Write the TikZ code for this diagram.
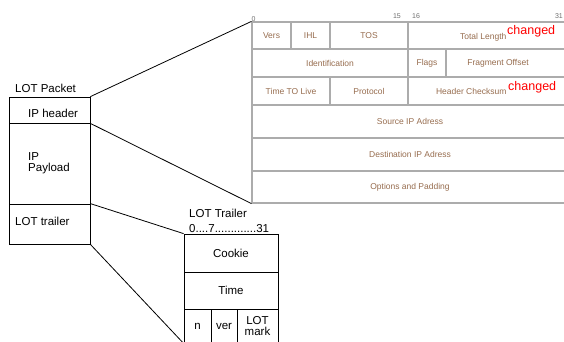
\documentclass[tikz,border=0pt]{standalone}
\usepackage{fontspec}
\setmainfont{Liberation Sans}
\usetikzlibrary{positioning}
\definecolor{gridgray}{RGB}{172,172,172}
\definecolor{fieldbrown}{RGB}{150,108,78}
\definecolor{bitgray}{RGB}{110,110,110}

\begin{document}
\begin{tikzpicture}[x=1pt, y=-1pt,
    box/.style 2 args = {shape=rectangle, draw, line width=0.8pt, inner sep=0pt,
      minimum width=#1pt, minimum height=#2pt, font=\fontsize{11.5}{11}\selectfont, align=center},
    fld/.style 2 args = {shape=rectangle, draw=gridgray, line width=1.2pt, inner sep=0pt,
      minimum width=#1pt, minimum height=#2pt, text=fieldbrown, font=\fontsize{8.5}{9}\selectfont},
    txt/.style = {inner sep=0pt, font=\fontsize{11.5}{11}\selectfont, align=left},
    bit/.style = {inner sep=0pt, text=bitgray, font=\fontsize{7}{8}\selectfont},
    chg/.style = {inner sep=0pt, text=red, font=\fontsize{12.5}{13}\selectfont}]
    \useasboundingbox (0,0) rectangle (564,341);

    \node[fld={39}{27}]  (vers)    at (271.5,35.5) {Vers};
    \node[fld={39}{27}]  (ihl)     at (310.5,35.5) {IHL};
    \node[fld={78}{27}]  (tos)     at (369,35.5)   {TOS};
    \node[fld={160}{27}] (totlen)  at (488,35.5)   {};
    \node[fld={156}{28}] (ident)   at (330,63)     {Identification};
    \node[fld={38}{28}]  (flags)   at (427,63)     {Flags};
    \node[fld={122}{28}] (fragoff) at (507,63)     {};
    \node[fld={316}{33}] (srcip)   at (410,121.5)  {Source IP Adress};
    \node[fld={78}{28}]  (ttl)     at (291,91)     {Time TO Live};
    \node[fld={78}{28}]  (proto)   at (369,91)     {Protocol};
    \node[fld={160}{28}] (hcsum)   at (488,91)     {};
    \node[fld={316}{33}] (dstip)   at (410,154.5)  {Destination IP Adress};
    \node[fld={316}{32}] (opts)    at (410,187)    {Options and Padding};
    \node[fld={1}{1}, draw=none] (fragofftxt) at (498,63) {Fragment Offset};
    \node[fld={1}{1}, draw=none, anchor=base east] (totlentxt) at (507,39) {Total Length};
    \node[fld={1}{1}, draw=none, anchor=base east] (hcsumtxt)  at (507,94) {Header Checksum};
    \node[chg, anchor=base west] (chgone) at (507,34.5) {changed};
    \node[chg, anchor=base west] (chgtwo) at (508,90)   {changed};
    \node[bit, anchor=south west] (bitzero)    at (vers.north west)  {0};
    \node[bit, anchor=south east] (bitfifteen) at (401,19) {15};
    \node[bit, anchor=south west] (bitsixteen) at (412,19) {16};
    \node[bit, anchor=south east] (bitlast)    at (563,19) {31};

    \node[box={81}{26}] (pkthdr) at (49.5,110)   {};
    \node[box={81}{81}] (pktpay) at (49.5,163.5) {};
    \node[box={81}{40}] (pkttrl) at (49.5,224)   {};
    \node[txt, anchor=base west]  (pktlbl) at (15,92)    {LOT Packet};
    \node[txt, anchor=base west]  (hdrlbl) at (28,117.5) {IP header};
    \node[txt, anchor=north west] (paylbl) at (28,152.7) {IP\\Payload};
    \node[txt, anchor=base west]  (trllbl) at (15,225.7) {LOT trailer};

    \node[box={94}{38}] (cookie)  at (231,253)   {Cookie};
    \node[box={94}{37}] (time)    at (231,290.5) {Time};
    \node[box={27}{34}] (nfld)    at (197.5,326) {n};
    \node[box={26}{34}] (verfld)  at (224,326)   {ver};
    \node[box={41}{34}] (markfld) at (257.5,326) {LOT\\mark};
    \node[txt, anchor=base west] (trailerlbl) at (189,217.7) {LOT Trailer};
    \node[txt, anchor=base west] (bitrange)   at (189,232.3) {0....7.............31};

    \draw[line width=0.8pt] (pkthdr.north east) -- (vers.north west);
    \draw[line width=0.8pt] (pkthdr.south east) -- (opts.south west);
    \draw[line width=0.8pt] (pkttrl.north east) -- (cookie.north west);
    \draw[line width=0.8pt] (pkttrl.south east) -- (nfld.south west);
\end{tikzpicture}
\end{document}
